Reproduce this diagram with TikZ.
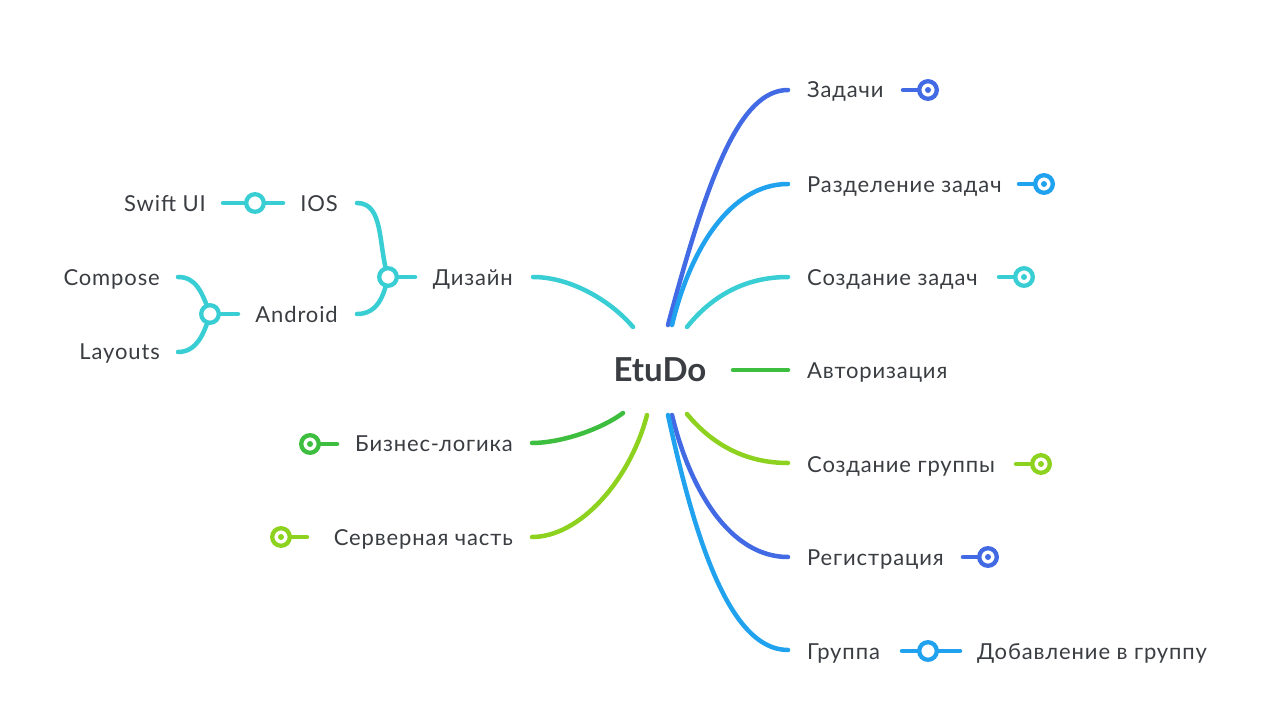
\documentclass[tikz,border=0pt]{standalone}
\usepackage{fontspec}
\setmainfont{Lato}[LetterSpace=4]
\newfontfamily\titlefont{Lato}
\definecolor{cblue}{RGB}{66,106,228}
\definecolor{csky}{RGB}{32,162,238}
\definecolor{cteal}{RGB}{56,206,212}
\definecolor{cgreen}{RGB}{62,190,62}
\definecolor{clime}{RGB}{142,210,32}
\definecolor{ctext}{RGB}{58,61,66}
\tikzset{
  lbl/.style={inner sep=0pt, text=ctext, font=\fontsize{22}{26}\selectfont},
  conn/.style={line width=4.5pt, line cap=round},
  ring/.style={line width=4.3pt, draw=#1, fill=white},
}
\newcommand{\leaficon}[2]{% color, center
  \path[ring=#1] #2 circle (8.8pt);
  \fill[#1] #2 circle (3pt);
}
\begin{document}
\begin{tikzpicture}[x=1pt,y=-1pt]
\useasboundingbox (0,0) rectangle (1280,701);
\fill[white] (0,0) rectangle (1280,701);

% center
\node[inner sep=0pt, text=ctext, font=\titlefont\fontsize{33}{38}\selectfont\bfseries] (etu) at (660,370) {EtuDo};

% right labels
\node[lbl, anchor=base west] (zad) at (807,98) {Задачи};
\node[lbl, anchor=base west] (razd) at (807,192) {Разделение задач};
\node[lbl, anchor=base west] (sozd) at (807,285) {Создание задач};
\node[lbl, anchor=base west] (avt) at (807,378) {Авторизация};
\node[lbl, anchor=base west] (sgr) at (807,472) {Создание группы};
\node[lbl, anchor=base west] (reg) at (807,565) {Регистрация};
\node[lbl, anchor=base west] (grp) at (807,659) {Группа};
\node[lbl, anchor=base west] (dob) at (977,659) {Добавление в группу};

% left labels
\node[lbl, anchor=base east] (diz) at (513,285) {Дизайн};
\node[lbl, anchor=base east] (biz) at (513,451) {Бизнес-логика};
\node[lbl, anchor=base east] (serv) at (513,545) {Серверная часть};
\node[lbl, anchor=base east] (ios) at (338,211) {IOS};
\node[lbl, anchor=base east] (andr) at (338,322) {Android};
\node[lbl, anchor=base east] (swift) at (206,211) {Swift UI};
\node[lbl, anchor=base east] (comp) at (160,285) {Compose};
\node[lbl, anchor=base east] (lay) at (160,359) {Layouts};

% connector end points
\coordinate (s1) at (668,325); \coordinate (e1) at (788,90);
\coordinate (s2) at (672,325); \coordinate (e2) at (788,184);
\coordinate (s3) at (687,327); \coordinate (e3) at (788,277);
\coordinate (s4) at (733,370); \coordinate (e4) at (788,370);
\coordinate (s5) at (687,414); \coordinate (e5) at (788,463);
\coordinate (s6) at (672,415); \coordinate (e6) at (788,557);
\coordinate (s7) at (668,415); \coordinate (e7) at (788,650);
\coordinate (s8) at (633,327); \coordinate (e8) at (533,277);
\coordinate (s9) at (623,413); \coordinate (e9) at (532,443);
\coordinate (s10) at (647,415); \coordinate (e10) at (532,537);

% main connectors
\draw[conn,cblue] (s1) .. controls (708,175) and (740,90) .. (e1);
\draw[conn,csky] (s2) .. controls (690,250) and (730,184) .. (e2);
\draw[conn,cteal] (s3) .. controls (715,292) and (750,277) .. (e3);
\draw[conn,cgreen] (s4) -- (e4);
\draw[conn,clime] (s5) .. controls (715,448) and (750,463) .. (e5);
\draw[conn,cblue] (s6) .. controls (690,490) and (730,557) .. (e6);
\draw[conn,csky] (s7) .. controls (695,540) and (730,650) .. (e7);
\draw[conn,cteal] (s8) .. controls (610,300) and (570,277) .. (e8);
\draw[conn,cgreen] (s9) .. controls (600,430) and (560,443) .. (e9);
\draw[conn,clime] (s10) .. controls (630,480) and (580,537) .. (e10);

% right end icons
\coordinate (i1) at (928,90);
\draw[conn,cblue] (903,90) -- (i1); \leaficon{cblue}{(i1)}
\coordinate (i2) at (1044,184);
\draw[conn,csky] (1019,184) -- (i2); \leaficon{csky}{(i2)}
\coordinate (i3) at (1024,277);
\draw[conn,cteal] (999,277) -- (i3); \leaficon{cteal}{(i3)}
\coordinate (i5) at (1041,464);
\draw[conn,clime] (1016,464) -- (i5); \leaficon{clime}{(i5)}
\coordinate (i6) at (988,557);
\draw[conn,cblue] (963,557) -- (i6); \leaficon{cblue}{(i6)}

% left end icons
\coordinate (i9) at (310,444);
\draw[conn,cgreen] (i9) -- (337,444); \leaficon{cgreen}{(i9)}
\coordinate (i10) at (281,537);
\draw[conn,clime] (i10) -- (307,537); \leaficon{clime}{(i10)}

% Группа -> Добавление
\coordinate (j4) at (928,651);
\draw[conn,csky] (902,651) -- (960,651);
\path[ring=csky] (j4) circle (8.8pt);

% Swift UI - IOS
\coordinate (j1) at (255,203);
\draw[conn,cteal] (223,203) -- (283,203);
\path[ring=cteal] (j1) circle (8.8pt);

% Design tree
\coordinate (j2) at (388,277);
\draw[conn,cteal] (357,203) .. controls (384,203) and (378,245) .. (j2);
\draw[conn,cteal] (357,314) .. controls (378,314) and (384,295) .. (j2);
\draw[conn,cteal] (j2) -- (415,277);
\path[ring=cteal] (j2) circle (8.8pt);

% Android tree
\coordinate (j3) at (210,314);
\draw[conn,cteal] (178,277) .. controls (196,277) and (202,292) .. (j3);
\draw[conn,cteal] (178,352) .. controls (196,352) and (204,335) .. (j3);
\draw[conn,cteal] (j3) -- (238,314);
\path[ring=cteal] (j3) circle (8.8pt);
\end{tikzpicture}
\end{document}
